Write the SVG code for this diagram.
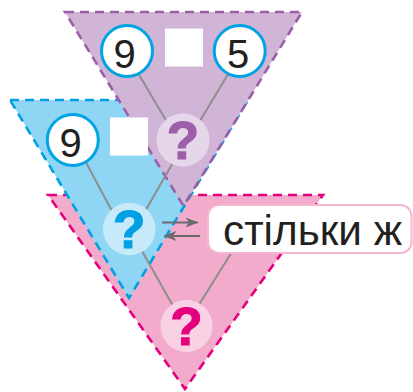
<svg xmlns="http://www.w3.org/2000/svg" width="413" height="392" viewBox="0 0 413 392">
<defs>
<style>
.tri{stroke-width:2.6;stroke-dasharray:9 6;stroke-linejoin:miter}
.pink{fill:#f3abcb;stroke:#e5007e}
.blue{fill:#8fd6f5;stroke:#00a0e3}
.purple{fill:#d0b5d7;stroke:#9d5ea9}
.con{stroke:#8e8e8e;stroke-width:2;fill:none}
.num{fill:#fff;stroke:#00a3e4;stroke-width:3}
.numt{font-family:"Liberation Sans",Arial,sans-serif;font-size:40px;fill:#231f20;text-anchor:middle}
.q{font-family:"Liberation Sans",Arial,sans-serif;font-size:53px;font-weight:bold;text-anchor:middle;stroke-width:1.2}
.arr{stroke:#6b6b6b;stroke-width:2;fill:none}
</style>
<marker id="ah" markerUnits="userSpaceOnUse" viewBox="0 0 13 10" refX="12" refY="5" markerWidth="13" markerHeight="10" orient="auto">
<path d="M0,0 L13,5 L0,10 L3.5,5 z" fill="#6b6b6b"/>
</marker>
</defs>
<rect width="413" height="392" fill="#fff"/>
<g id="triangle-pink"><polygon class="tri pink" points="48,195 323,195 185,389"/></g>
<g id="triangle-blue"><polygon class="tri blue" points="10,100 248,100 129,298"/></g>
<g id="triangle-purple"><polygon class="tri purple" points="65,12 302,12 183.5,206"/></g>
<g id="connectors">
<line class="con" x1="125" y1="51" x2="183" y2="149"/>
<line class="con" x1="242" y1="51" x2="183" y2="149"/>
<line class="con" x1="187.7" y1="137" x2="128" y2="241"/>
<line class="con" x1="74" y1="140" x2="128" y2="241"/>
<line class="con" x1="129" y1="228" x2="185" y2="327"/>
<line class="con" x1="240" y1="239" x2="185" y2="327"/>
<line class="arr" x1="162" y1="222.5" x2="197.5" y2="222.5" marker-end="url(#ah)"/>
<line class="arr" x1="200" y1="236" x2="164.5" y2="236" marker-end="url(#ah)"/>
</g>
<g id="n9-top"><circle class="num" cx="127" cy="51" r="25.5"/><text class="numt" x="124.5" y="67.5">9</text></g>
<g id="box-top"><rect x="165" y="28.5" width="38" height="38" fill="#fff"/></g>
<g id="n5-top"><circle class="num" cx="239.7" cy="51" r="25.5"/><text class="numt" x="238" y="67.5">5</text></g>
<g id="q-purple"><circle cx="183" cy="140" r="26.5" fill="#e6d6ea"/><text class="q" x="183" y="159" fill="#9d5ea9" stroke="#9d5ea9">?</text></g>
<g id="n9-blue"><circle class="num" cx="72.8" cy="140" r="25.5"/><text class="numt" x="70.5" y="157">9</text></g>
<g id="box-blue"><rect x="110" y="117.5" width="38" height="38" fill="#fff"/></g>
<g id="q-blue"><circle cx="129.3" cy="229" r="26.3" fill="#c7eafa"/><text class="q" x="129.3" y="248" fill="#00a0e3" stroke="#00a0e3">?</text></g>
<g id="q-pink"><circle cx="186.5" cy="326" r="26" fill="#f9d1e4"/><text class="q" x="186.5" y="344.5" fill="#e5007e" stroke="#e5007e">?</text></g>
<g id="label"><rect x="208" y="205" width="203.5" height="48" rx="11" fill="#fff" stroke="#f5b6d1" stroke-width="2"/><text x="223" y="245" font-family="'Liberation Sans',Arial,sans-serif" font-size="42" fill="#231f20" textLength="179" lengthAdjust="spacingAndGlyphs">стільки ж</text></g>
</svg>
